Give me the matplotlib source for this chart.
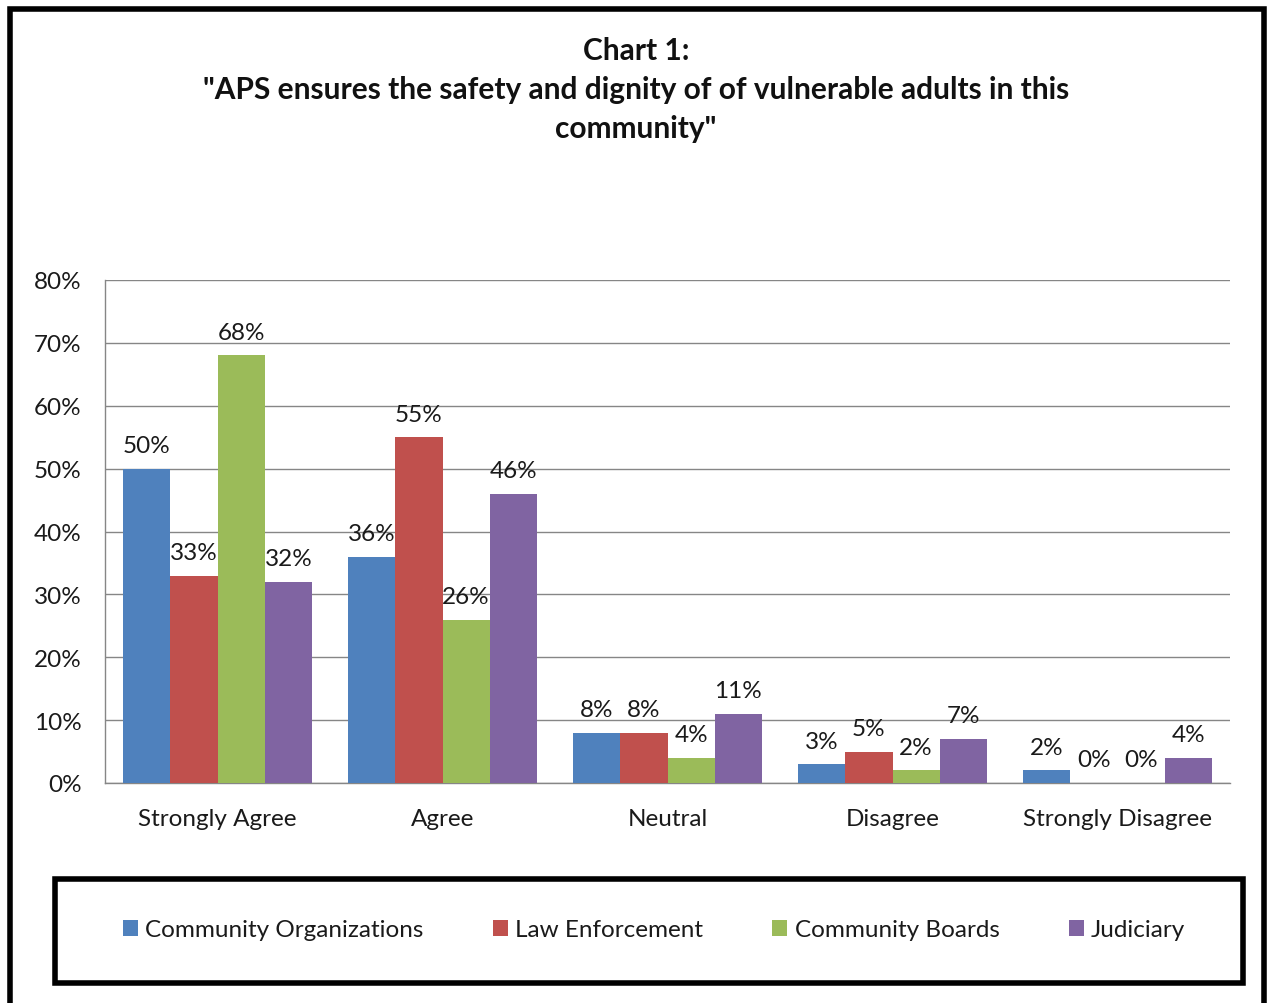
import matplotlib.pyplot as plt
import numpy as np
from matplotlib.patches import Rectangle

plt.rcParams['font.family'] = ['Lato', 'DejaVu Sans']

categories = ['Strongly Agree', 'Agree', 'Neutral', 'Disagree', 'Strongly Disagree']
series_names = ['Community Organizations', 'Law Enforcement', 'Community Boards', 'Judiciary']
community_orgs = [50, 36, 8, 3, 2]
law_enforcement = [33, 55, 8, 5, 0]
community_boards = [68, 26, 4, 2, 0]
judiciary = [32, 46, 11, 7, 4]
colors = ['#4F81BD', '#C0504D', '#9BBB59', '#8064A2']

W, H = 1268, 1004
fig = plt.figure(figsize=(W / 100, H / 100), dpi=100)

def px_box(x0, y0, x1, y1):
    return [x0 / W, 1 - y1 / H, (x1 - x0) / W, (y1 - y0) / H]

ax = fig.add_axes(px_box(105, 281, 1230, 784))

x = np.arange(len(categories))
bw = 0.21
all_series = [community_orgs, law_enforcement, community_boards, judiciary]
handles = []
for i, (vals, col) in enumerate(zip(all_series, colors)):
    pos = x + (i - 1.5) * bw
    bars = ax.bar(pos, vals, width=bw, color=col, zorder=3, label=series_names[i])
    handles.append(bars)
    for p, v in zip(pos, vals):
        ax.annotate(f'{v}%', xy=(p, v), xytext=(0, 9), textcoords='offset points',
                    ha='center', va='bottom', fontsize=17.5, color='#1a1a1a', zorder=4)

ax.set_xlim(-0.5, len(categories) - 0.5)
ax.set_ylim(0, 80)
ax.set_yticks(range(0, 81, 10))
ax.set_yticklabels([f'{t}%' for t in range(0, 81, 10)])
ax.set_xticks(x)
ax.set_xticklabels(categories)
ax.tick_params(axis='both', length=0, labelsize=17.5, colors='#1a1a1a')
ax.tick_params(axis='y', pad=17)
ax.tick_params(axis='x', pad=18)
ax.grid(axis='y', color='#868686', linewidth=1, zorder=0)
for side in ['top', 'right']:
    ax.spines[side].set_visible(False)
for side in ['left', 'bottom']:
    ax.spines[side].set_color('#868686')
    ax.spines[side].set_linewidth(1)

# title
fig.text(636 / W, 1 - 90 / H, 'Chart 1:\n"APS ensures the safety and dignity of of vulnerable adults in this\ncommunity"',
         ha='center', va='center', fontsize=21.5, fontweight='bold', linespacing=1.48, color='#111111')

# outer frame and legend frame
fig.patches.append(Rectangle((10 / W, -0.02), 1254 / W, 1 - 10 / H + 0.02, transform=fig.transFigure,
                             fill=False, edgecolor='black', linewidth=4))
fig.patches.append(Rectangle((55 / W, 1 - 984 / H), 1188 / W, 104 / H, transform=fig.transFigure,
                             fill=False, edgecolor='black', linewidth=4))

fig.legend(handles=handles, labels=series_names, loc='center', bbox_to_anchor=(654 / W, 1 - 931 / H),
           ncol=4, frameon=False, fontsize=17.5, handlelength=0.62, handleheight=0.62,
           handletextpad=0.3, columnspacing=2.85, labelcolor='#1a1a1a')

fig.savefig('out.png', dpi=100)
